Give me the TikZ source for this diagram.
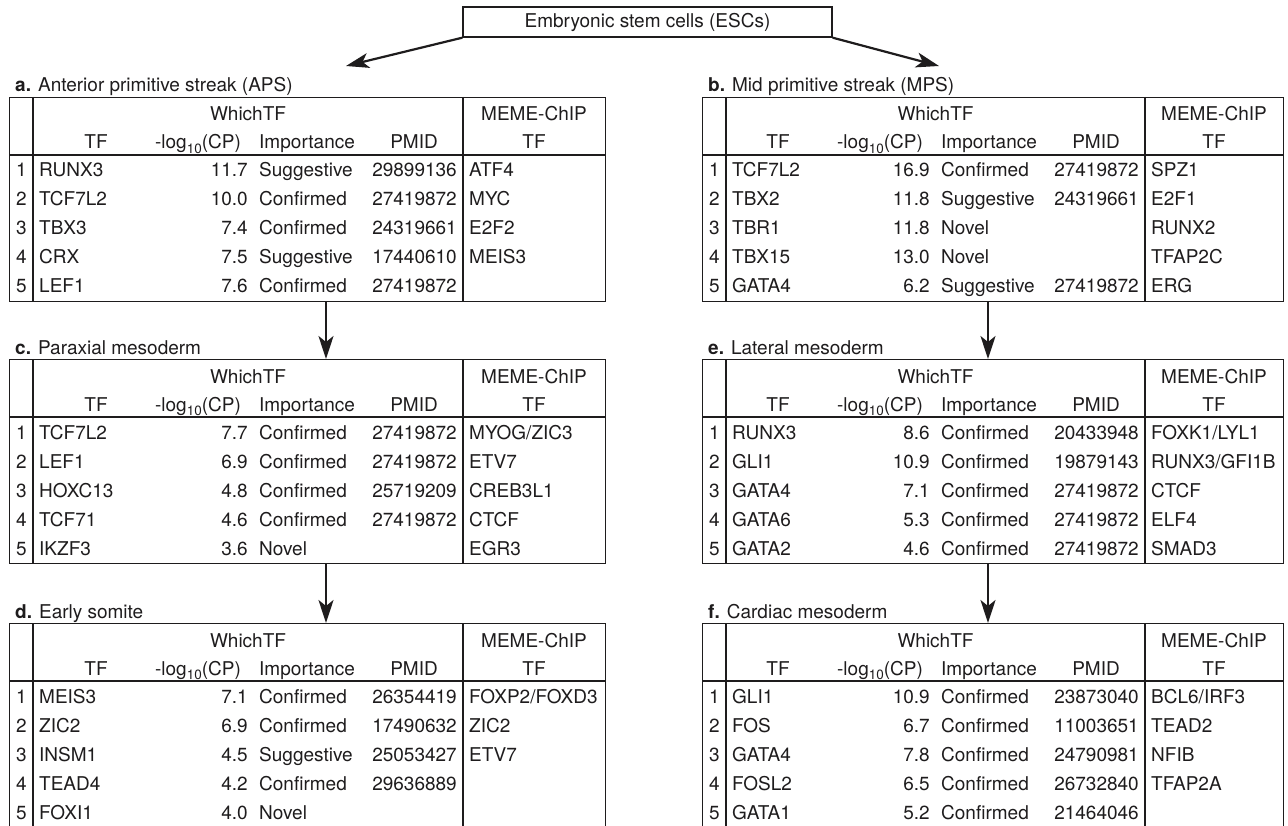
\documentclass[tikz,border=0pt]{standalone}
\usepackage{fontspec}
\setmainfont{TeX Gyre Heros}
\definecolor{ink}{RGB}{30,28,29}
\usetikzlibrary{arrows.meta}
\newcommand{\tabfont}{\fontsize{19}{22}\selectfont}
\newcommand{\tfsub}[1]{\raisebox{-0.5ex}{\fontsize{13.5}{14}\selectfont #1}}
\tikzset{
  cell/.style={inner sep=0pt, text=ink, font=\tabfont},
  rule/.style={ink, line width=1.4pt},
  tabbox/.style={draw=ink, line width=1.4pt, inner sep=0pt},
  escbox/.style={draw=ink, line width=1.4pt, inner sep=0pt, minimum width=369pt, minimum height=30pt, text=ink, font=\tabfont},
  flow/.style={ink, line width=2.2pt, -{Stealth[length=23pt, width=15pt, inset=6pt]}}
}
% table frame and header: name, left, top, right end of CP column, MEME divider, right
\newcommand{\tftable}[6]{%
  \def\tfname{#1}\def\tfxa{#2}\def\tfya{#3}\def\tfxc{#4}\def\tfxm{#5}
  \node[tabbox, minimum width={#6-#2}, minimum height=204, anchor=north west] (#1) at (#2,#3) {};
  \draw[rule] (#2+24,#3) -- (#2+24,#3+204);
  \draw[rule] (#5,#3) -- (#5,#3+204);
  \draw[rule] (#2,#3+58) -- (#6,#3+58);
  \node[cell, anchor=base] (#1-which) at ({(#2+24+#5)/2},#3+24) {WhichTF};
  \node[cell, anchor=base] (#1-meme) at ({(#5+#6)/2},#3+24) {MEME-ChIP};
  \node[cell, anchor=base] (#1-htf) at (#4-152,#3+52) {TF};
  \node[cell, anchor=base] (#1-hcp) at (#4-50,#3+52) {-log\tfsub{10}(CP)};
  \node[cell, anchor=base west] (#1-himp) at (#4+11,#3+52) {Importance};
  \node[cell, anchor=base] (#1-hpmid) at (#5-49,#3+52) {PMID};
  \node[cell, anchor=base] (#1-hmtf) at ({(#5+#6)/2},#3+52) {TF};
}
% one row: number, TF, CP, importance, PMID, MEME-ChIP TF
\newcommand{\tfrow}[6]{%
  \pgfmathsetmacro{\tfy}{\tfya+80+29*(#1-1)}
  \node[cell, anchor=base] (\tfname-#1) at (\tfxa+12.5,\tfy) {#1};
  \node[cell, anchor=base west] (\tfname-#1-tf) at (\tfxa+30,\tfy) {#2};
  \node[cell, anchor=base east] (\tfname-#1-cp) at (\tfxc,\tfy) {#3};
  \node[cell, anchor=base west] (\tfname-#1-imp) at (\tfxc+11,\tfy) {#4};
  \if\relax\detokenize{#5}\relax\else
    \node[cell, anchor=base east] (\tfname-#1-pmid) at (\tfxm-6,\tfy) {#5};\fi
  \if\relax\detokenize{#6}\relax\else
    \node[cell, anchor=base west] (\tfname-#1-mtf) at (\tfxm+6,\tfy) {#6};\fi
}

\begin{document}
\begin{tikzpicture}[x=1pt, y=-1pt]
  \useasboundingbox (0,0) rectangle (1288,826);

  \node[escbox] (esc) at (647.5,22) {Embryonic stem cells (ESCs)};

  \node[cell, anchor=base west] (a-title) at (15,92) {\textbf{a.} Anterior primitive streak (APS)};
  \tftable{a}{9}{97}{248}{463}{605}
  \tfrow{1}{RUNX3}{11.7}{Suggestive}{29899136}{ATF4}
  \tfrow{2}{TCF7L2}{10.0}{Confirmed}{27419872}{MYC}
  \tfrow{3}{TBX3}{7.4}{Confirmed}{24319661}{E2F2}
  \tfrow{4}{CRX}{7.5}{Suggestive}{17440610}{MEIS3}
  \tfrow{5}{LEF1}{7.6}{Confirmed}{27419872}{}

  \node[cell, anchor=base west] (b-title) at (708,92) {\textbf{b.} Mid primitive streak (MPS)};
  \tftable{b}{702}{97}{930}{1145}{1283}
  \tfrow{1}{TCF7L2}{16.9}{Confirmed}{27419872}{SPZ1}
  \tfrow{2}{TBX2}{11.8}{Suggestive}{24319661}{E2F1}
  \tfrow{3}{TBR1}{11.8}{Novel}{}{RUNX2}
  \tfrow{4}{TBX15}{13.0}{Novel}{}{TFAP2C}
  \tfrow{5}{GATA4}{6.2}{Suggestive}{27419872}{ERG}

  \node[cell, anchor=base west] (c-title) at (15,354) {\textbf{c.} Paraxial mesoderm};
  \tftable{c}{9}{359}{248}{463}{605}
  \tfrow{1}{TCF7L2}{7.7}{Confirmed}{27419872}{MYOG/ZIC3}
  \tfrow{2}{LEF1}{6.9}{Confirmed}{27419872}{ETV7}
  \tfrow{3}{HOXC13}{4.8}{Confirmed}{25719209}{CREB3L1}
  \tfrow{4}{TCF71}{4.6}{Confirmed}{27419872}{CTCF}
  \tfrow{5}{IKZF3}{3.6}{Novel}{}{EGR3}

  \node[cell, anchor=base west] (e-title) at (708,354) {\textbf{e.} Lateral mesoderm};
  \tftable{e}{702}{359}{930}{1145}{1283}
  \tfrow{1}{RUNX3}{8.6}{Confirmed}{20433948}{FOXK1/LYL1}
  \tfrow{2}{GLI1}{10.9}{Confirmed}{19879143}{RUNX3/GFI1B}
  \tfrow{3}{GATA4}{7.1}{Confirmed}{27419872}{CTCF}
  \tfrow{4}{GATA6}{5.3}{Confirmed}{27419872}{ELF4}
  \tfrow{5}{GATA2}{4.6}{Confirmed}{27419872}{SMAD3}

  \node[cell, anchor=base west] (d-title) at (15,618) {\textbf{d.} Early somite};
  \tftable{d}{9}{623}{248}{463}{605}
  \tfrow{1}{MEIS3}{7.1}{Confirmed}{26354419}{FOXP2/FOXD3}
  \tfrow{2}{ZIC2}{6.9}{Confirmed}{17490632}{ZIC2}
  \tfrow{3}{INSM1}{4.5}{Suggestive}{25053427}{ETV7}
  \tfrow{4}{TEAD4}{4.2}{Confirmed}{29636889}{}
  \tfrow{5}{FOXI1}{4.0}{Novel}{}{}

  \node[cell, anchor=base west] (f-title) at (708,618) {\textbf{f.} Cardiac mesoderm};
  \tftable{f}{702}{623}{930}{1145}{1283}
  \tfrow{1}{GLI1}{10.9}{Confirmed}{23873040}{BCL6/IRF3}
  \tfrow{2}{FOS}{6.7}{Confirmed}{11003651}{TEAD2}
  \tfrow{3}{GATA4}{7.8}{Confirmed}{24790981}{NFIB}
  \tfrow{4}{FOSL2}{6.5}{Confirmed}{26732840}{TFAP2A}
  \tfrow{5}{GATA1}{5.2}{Confirmed}{21464046}{}

  \coordinate (a-in) at (346,66);
  \coordinate (b-in) at (939,66);
  \coordinate (left-x) at (326,0);
  \coordinate (right-x) at (988,0);
  \draw[flow] (esc.south west) -- (a-in);
  \draw[flow] (esc.south east) -- (b-in);
  \draw[flow] (a.south -| left-x) -- (c.north -| left-x);
  \draw[flow] (c.south -| left-x) -- (d.north -| left-x);
  \draw[flow] (b.south -| right-x) -- (e.north -| right-x);
  \draw[flow] (e.south -| right-x) -- (f.north -| right-x);
\end{tikzpicture}
\end{document}
